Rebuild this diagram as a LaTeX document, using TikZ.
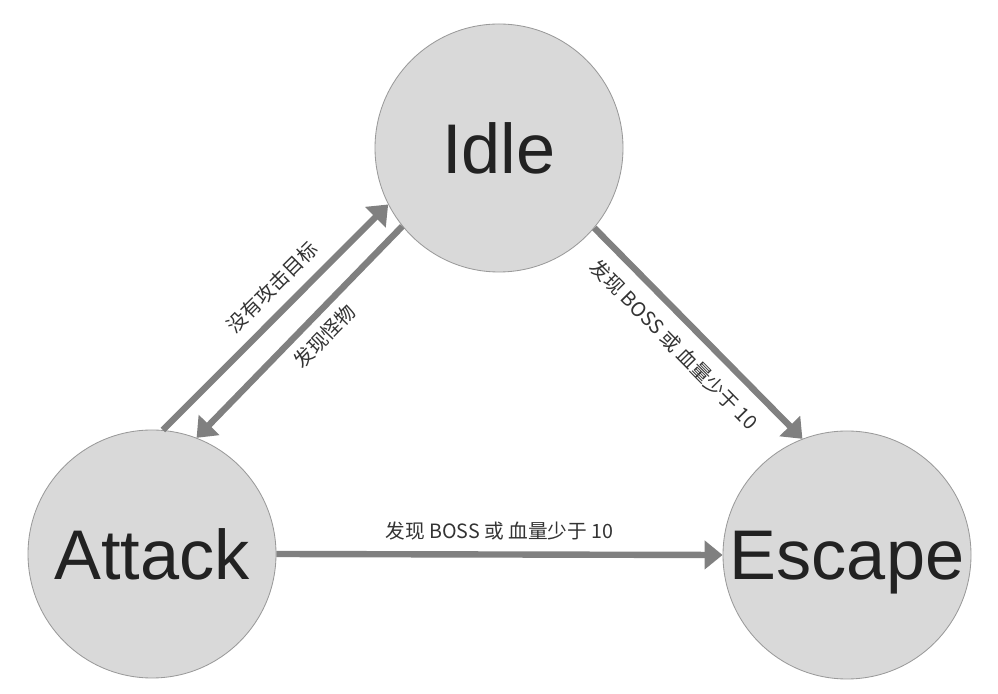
\documentclass[tikz,border=0pt]{standalone}
\usepackage{fontspec}
\setmainfont{Liberation Sans}
\newfontfamily\cjk{Noto Sans CJK SC}
\usetikzlibrary{arrows.meta, positioning}
\definecolor{sfill}{HTML}{D9D9D9}
\definecolor{sborder}{HTML}{9A9A9A}
\definecolor{sarrow}{HTML}{808080}
\definecolor{stext}{HTML}{222222}
\definecolor{slabel}{HTML}{333333}
\tikzset{
  statebox/.style={circle, draw=sborder, line width=0.6pt, fill=sfill,
                   minimum size=6.2cm, inner sep=0pt, text=stext,
                   font=\fontsize{50}{52}\selectfont, text depth=0pt},
  arr/.style={-{Triangle[length=0.45cm, width=0.7cm]}, line width=0.16cm, sarrow},
  lbl/.style={font=\cjk\fontsize{14}{16}\selectfont, text=slabel, inner sep=3pt},
}
\begin{document}
\begin{tikzpicture}
  \useasboundingbox (0,0) rectangle (24.95,17.325);

  %% ── States ──
  \node[statebox] (idle)   at (12.475, 13.625) {Idle};
  \node[statebox] (attack) at (3.8, 3.475)     {Attack};
  \node[statebox] (escape) at (21.175, 3.45)   {Escape};

  %% ── Transitions ──
  \draw[arr] (attack.85) -- (idle.207)
    node[lbl, sloped, above=5pt, pos=0.56] {没有攻击目标};
  \draw[arr] (idle.219) -- (attack.69)
    node[lbl, sloped, below=3pt, pos=0.45] {发现怪物};
  \draw[arr] (idle.-40) -- (escape.111)
    node[lbl, sloped, below=6pt, pos=0.47] {发现 BOSS 或 血量少于 10};
  \draw[arr] (attack.0) -- (escape.180)
    node[lbl, above=5pt, midway] {发现 BOSS 或 血量少于 10};
\end{tikzpicture}
\end{document}
